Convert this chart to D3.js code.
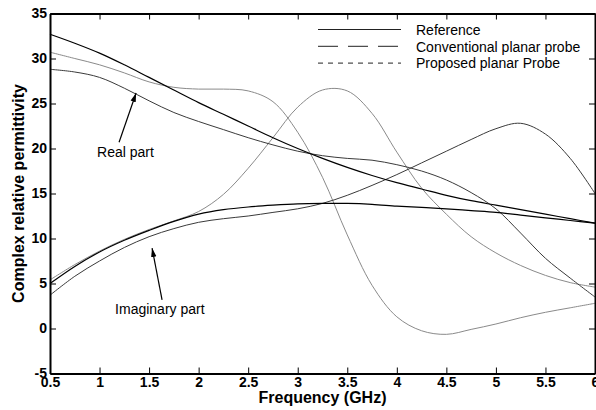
<!DOCTYPE html>
<html><head><meta charset="utf-8">
<script src="https://cdn.jsdelivr.net/npm/d3@7"></script>
<style>body{margin:0;background:#fff}svg{display:block}</style>
</head><body><svg id="c" width="596" height="410"></svg>
<script>
const freq = [0.5,0.75,1,1.25,1.5,1.75,2,2.25,2.5,2.75,3,3.25,3.5,3.75,4,4.25,4.5,4.75,5,5.25,5.5,5.75,6];
const refReal  = [32.7,31.7,30.6,29.3,27.9,26.5,25.1,23.8,22.5,21.2,20.0,18.9,17.9,17.0,16.2,15.5,14.8,14.2,13.7,13.2,12.7,12.2,11.7];
const refImag  = [5.0,6.9,8.5,9.8,10.9,11.9,12.7,13.2,13.5,13.7,13.85,13.9,13.9,13.8,13.6,13.45,13.3,13.1,12.9,12.6,12.3,12.0,11.7];
const convReal = [30.7,30.0,29.3,28.4,27.4,26.8,26.6,26.6,26.4,25.2,21.8,16.8,10.4,4.8,1.3,-0.25,-0.65,-0.1,0.5,1.2,1.8,2.3,2.8];
const convImag = [5.4,7.1,8.6,9.9,11.0,11.95,13.0,14.9,17.8,21.2,24.6,26.5,26.4,23.9,19.6,15.6,12.7,10.2,8.4,7.0,5.9,5.1,4.6];
const propReal = [28.8,28.5,27.9,26.7,25.3,24.0,23.0,22.1,21.2,20.4,19.7,19.2,18.9,18.7,18.2,17.5,16.5,15.1,13.3,10.6,7.8,5.6,3.5];
const propImag = [3.7,5.8,7.5,9.0,10.2,11.1,11.8,12.2,12.5,12.9,13.3,13.9,14.8,15.9,17.1,18.4,19.7,21.0,22.2,22.8,21.6,18.9,15.0];
const xTicks = [0.5,1,1.5,2,2.5,3,3.5,4,4.5,5,5.5,6];
const xTickLabels = ["0.5","1","1.5","2","2.5","3","3.5","4","4.5","5","5.5","6"];
const yTicks = [-5,0,5,10,15,20,25,30,35];
const yTickLabels = ["-5","0","5","10","15","20","25","30","35"];
const legendLabels = ["Reference","Conventional planar probe","Proposed planar Probe"];

const svg = d3.select("#c");
const x = d3.scaleLinear().domain([0.5,6]).range([50,595]);
const y = d3.scaleLinear().domain([-5,35]).range([373.5,13.5]);
const font = "'Liberation Sans', Arial, Helvetica, sans-serif";

// curves
const series = [
  {v: convReal, c: "#8a8a8a", w: 1},
  {v: convImag, c: "#8a8a8a", w: 1},
  {v: propReal, c: "#3a3a3a", w: 1},
  {v: propImag, c: "#3a3a3a", w: 1},
  {v: refReal,  c: "#000", w: 1.2},
  {v: refImag,  c: "#000", w: 1.2}
];
const line = d3.line().x((d,i)=>x(freq[i])).y(d=>y(d)).curve(d3.curveCatmullRom.alpha(0.5));
svg.append("g").selectAll("path").data(series).join("path")
  .attr("d", s=>line(s.v)).attr("fill","none")
  .attr("stroke", s=>s.c).attr("stroke-width", s=>s.w);

// axes
function styleAxis(g){
  g.select(".domain").attr("stroke","#000").attr("stroke-width",2);
  g.selectAll(".tick line").attr("stroke","#000").attr("stroke-width",1);
  g.selectAll("text").attr("font-family",font).attr("font-weight","bold").attr("font-size",14).attr("fill","#000");
}
svg.append("g").attr("transform",`translate(0,${y(-5)})`)
  .call(d3.axisBottom(x).tickValues(xTicks).tickFormat((d,i)=>xTickLabels[i]).tickSize(-6).tickSizeOuter(0).tickPadding(3.5))
  .call(styleAxis);
svg.append("g").attr("transform",`translate(0,${y(35)})`)
  .call(d3.axisTop(x).tickValues(xTicks).tickFormat("").tickSize(-6).tickSizeOuter(0))
  .call(styleAxis);
svg.append("g").attr("transform",`translate(${x(0.5)},0)`)
  .call(d3.axisLeft(y).tickValues(yTicks).tickFormat((d,i)=>yTickLabels[i]).tickSize(-6).tickSizeOuter(0).tickPadding(3))
  .call(styleAxis);
svg.append("g").attr("transform",`translate(${x(6)},0)`)
  .call(d3.axisRight(y).tickValues(yTicks).tickFormat("").tickSize(-6).tickSizeOuter(0))
  .call(styleAxis);

// axis titles
svg.append("text").attr("x",(x(0.5)+x(6))/2).attr("y",403).attr("text-anchor","middle")
  .attr("font-family",font).attr("font-weight","bold").attr("font-size",16).text("Frequency (GHz)");
svg.append("text").attr("transform",`translate(24,${(y(-5)+y(35))/2}) rotate(-90)`).attr("text-anchor","middle")
  .attr("font-family",font).attr("font-weight","bold").attr("font-size",16).text("Complex relative permittivity");

// legend
const legDash = [null,"20,10","5,5"];
const legG = svg.append("g");
legendLabels.forEach((t,i)=>{
  const ly = 29.5 + i*16.8;
  legG.append("line").attr("x1",318).attr("x2",401).attr("y1",ly).attr("y2",ly)
    .attr("stroke","#222").attr("stroke-width",1).attr("stroke-dasharray",legDash[i]);
  legG.append("text").attr("x",416).attr("y",ly+5.2).attr("font-family",font).attr("font-size",14).text(t);
});

// annotations
const defs = svg.append("defs");
defs.append("marker").attr("id","ah").attr("viewBox","0 0 10 6").attr("refX",10).attr("refY",3)
  .attr("markerWidth",9).attr("markerHeight",6).attr("markerUnits","userSpaceOnUse").attr("orient","auto")
  .append("path").attr("d","M0,0 L10,3 L0,6 Z").attr("fill","#000");
svg.append("line").attr("x1",x(1.197)).attr("y1",y(20.7)).attr("x2",x(1.369)).attr("y2",y(26.17))
  .attr("stroke","#000").attr("stroke-width",1.2).attr("marker-end","url(#ah)");
svg.append("line").attr("x1",x(1.631)).attr("y1",y(3.17)).attr("x2",x(1.53)).attr("y2",y(8.94))
  .attr("stroke","#000").attr("stroke-width",1.2).attr("marker-end","url(#ah)");
svg.append("text").attr("x",x(0.975)).attr("y",y(19.06)).attr("font-family",font).attr("font-size",14).text("Real part");
svg.append("text").attr("x",x(1.157)).attr("y",y(1.61)).attr("font-family",font).attr("font-size",14).text("Imaginary part");
</script>
</body></html>
